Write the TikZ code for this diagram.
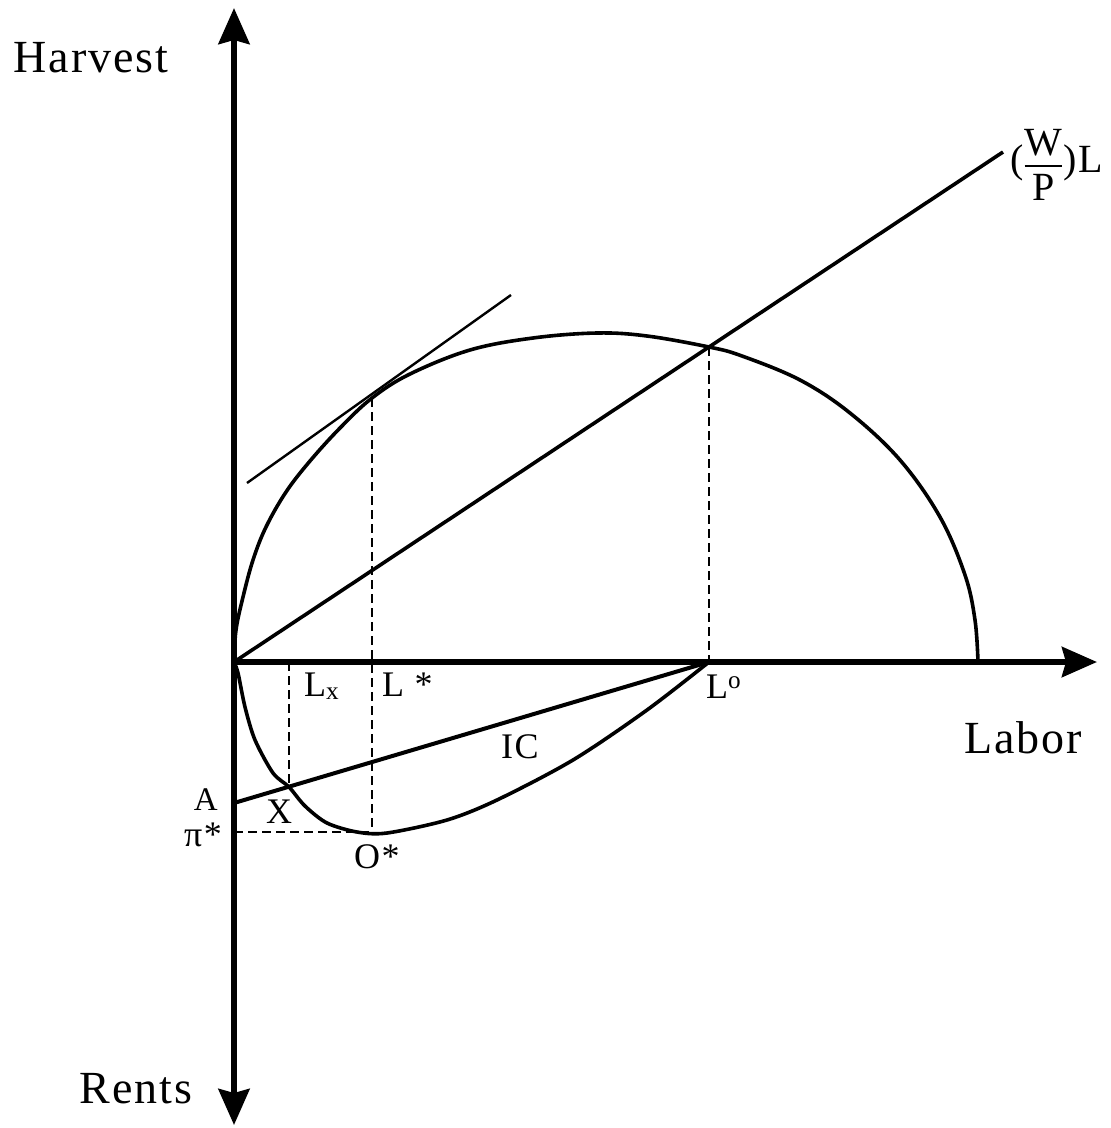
\documentclass[tikz,border=0pt]{standalone}
\usepackage{amsmath}
\usepackage{fontspec}
\setmainfont[LetterSpace=4]{Liberation Serif}
\usepackage{tikz}
\usetikzlibrary{positioning, arrows.meta}

\begin{document}
\begin{tikzpicture}[
    x=1pt, y=-1pt,
    axis/.style={line width=6pt},
    curve/.style={line width=3.6pt, line join=round},
    thinline/.style={line width=2.4pt},
    guide/.style={line width=2pt, dash pattern=on 9pt off 5pt},
    big/.style={font=\fontsize{46}{50}\selectfont, inner sep=0pt},
    lab/.style={font=\fontsize{36}{40}\selectfont, inner sep=0pt},
]
    \useasboundingbox (0,0) rectangle (1111,1128);

    % Key points
    \coordinate (O) at (234,662);
    \coordinate (top) at (234,8);
    \coordinate (bot) at (234,1125);
    \coordinate (east) at (1097,662);
    \coordinate (Lo) at (709,662);
    \coordinate (HLo) at (709,347);
    \coordinate (Ls) at (372,662);
    \coordinate (T) at (372,398);
    \coordinate (Os) at (372,832);
    \coordinate (pis) at (234,832);
    \coordinate (A) at (234,803);
    \coordinate (X) at (289,786);
    \coordinate (Lx) at (289,662);
    \coordinate (wEnd) at (1003,152);
    \coordinate (tA) at (247,483);
    \coordinate (tB) at (511,295);

    % Axes
    \draw[axis, {Stealth[length=36pt, width=31pt, inset=4pt]}-{Stealth[length=36pt, width=31pt, inset=4pt]}] (bot) -- (top);
    \draw[axis, -{Stealth[length=35pt, width=30pt, inset=4pt]}] (O) -- (east);

    % Harvest curve
    \draw[curve] plot[smooth, tension=0.6] coordinates {(234,662) (236,630) (243,597) (253,560) (266,527) (286,492) (310,461) (340,428) (372,398) (410,374) (470,350) (533,338) (597,333) (647,336) (709,347) (742,356) (800,380) (850,413) (900,460) (940,517) (965,575) (975,620) (978,662)};

    % Rent curve
    \draw[curve] plot[smooth, tension=0.5] coordinates {(234,662) (238,673) (245,707) (255,740) (273,773) (289,787) (305,806) (327,823) (357,832) (387,833) (447,820) (497,800) (573,760) (647,710) (709,662)};

    % Cost line and tangent
    \draw[curve] (O) -- (wEnd);
    \draw[thinline] (tA) -- (tB);
    \draw[line width=4pt] (A) -- (Lo);

    % Dashed guides
    \draw[guide] (T) -- (Os);
    \draw[guide] (HLo) -- (Lo);
    \draw[guide] (Lx) -- (X);
    \draw[guide] (pis) -- (Os);

    % Labels
    \node[big, anchor=base] (harvest) at (91,72) {Harvest};
    \node[big, anchor=base] (labor) at (1023,753) {Labor};
    \node[big, anchor=base] (rents) at (136,1103) {Rents};
    \node[lab, font=\fontsize{40}{44}\selectfont, anchor=base west] (wage) at (1010,172) {($\genfrac{}{}{2.5pt}{0}{\text{W}}{\text{P}}$)L};
    \node[lab, anchor=base west] (lxlab) at (304,696) {L\textsubscript{x}};
    \node[lab, anchor=base west] (lslab) at (382,696) {L *};
    \node[lab, anchor=base west] (lolab) at (706,698) {L\textsuperscript{o}};
    \node[lab, anchor=base west] (iclab) at (501,758) {IC};
    \node[lab, font=\fontsize{33}{36}\selectfont, anchor=base east] (alab) at (218,810) {A};
    \node[lab, anchor=base east] (pilab) at (222,846) {π*};
    \node[lab, anchor=base west] (xlab) at (266,823) {X};
    \node[lab, anchor=base west] (oslab) at (354,868) {O*};
\end{tikzpicture}
\end{document}
